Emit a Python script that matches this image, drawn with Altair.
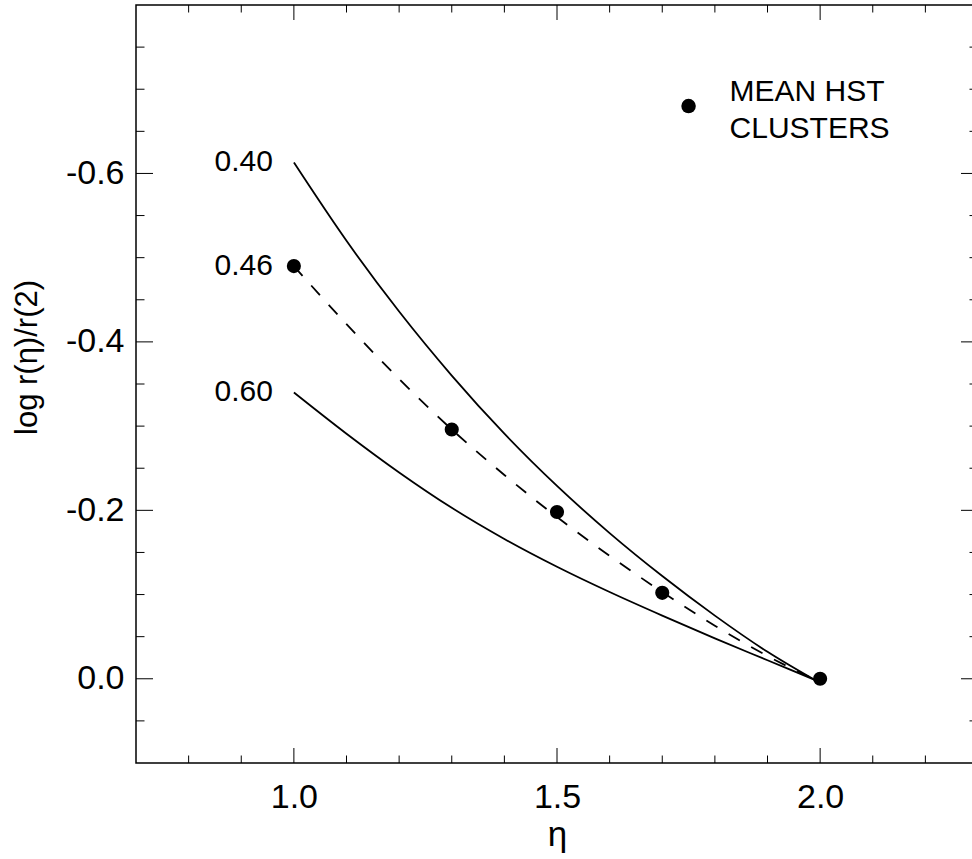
import altair as alt
import pandas as pd

# ---- data ----
eta = [1.0, 1.1, 1.2, 1.3, 1.4, 1.5, 1.6, 1.7, 1.8, 1.9, 2.0]
curve_040 = [-0.613, -0.520, -0.436, -0.360, -0.291, -0.229, -0.173, -0.122, -0.075, -0.032, 0.005]
curve_046 = [-0.490, -0.421, -0.356, -0.296, -0.242, -0.192, -0.146, -0.103, -0.063, -0.027, 0.004]
curve_060 = [-0.340, -0.291, -0.245, -0.203, -0.166, -0.133, -0.103, -0.075, -0.048, -0.022, 0.004]
curve_names = ["0.40", "0.46", "0.60"]

hst_eta = [1.0, 1.3, 1.5, 1.7, 2.0]
hst_val = [-0.490, -0.296, -0.198, -0.102, 0.0]

legend_eta = [1.75]
legend_val = [-0.68]
legend_lines = ["MEAN HST", "CLUSTERS"]

x_major = [1.0, 1.5, 2.0]
x_minor = [0.8, 0.9, 1.1, 1.2, 1.3, 1.4, 1.6, 1.7, 1.8, 1.9, 2.1, 2.2]
y_major = [-0.6, -0.4, -0.2, 0.0]
y_minor = [-0.75, -0.7, -0.65, -0.55, -0.5, -0.45, -0.35, -0.3, -0.25,
           -0.15, -0.1, -0.05, 0.05]

# ---- layout ----
W, H = 842, 758
FONT = "Liberation Sans"

xs = alt.Scale(domain=[0.7, 2.3], nice=False, zero=False)
ys = alt.Scale(domain=[-0.8, 0.1], reverse=True, nice=False, zero=False)

solid_df = pd.DataFrame({
    "eta": eta * 2,
    "val": curve_040 + curve_060,
    "name": [curve_names[0]] * len(eta) + [curve_names[2]] * len(eta),
})
dash_df = pd.DataFrame({"eta": eta, "val": curve_046})
pts_df = pd.DataFrame({"eta": hst_eta, "val": hst_val})
lab_df = pd.DataFrame({
    "eta": [eta[0]] * 3,
    "val": [curve_040[0], curve_046[0], curve_060[0]],
    "name": curve_names,
})
leg_df = pd.DataFrame({"eta": legend_eta, "val": legend_val,
                       "text": ["\n".join(legend_lines)]})

x_axis = alt.Axis(
    values=x_major, labelExpr="format(datum.value, '.1f')",
    ticks=False, tickSize=0, domain=False, grid=False,
    labelFont=FONT, labelFontSize=34, labelColor="black", labelPadding=17,
    title="η", titleFont=FONT, titleFontSize=35, titleFontWeight="normal",
    titleColor="black", titleY=82, titleBaseline="alphabetic",
)
y_axis = alt.Axis(
    values=y_major,
    labelExpr="(datum.value < 0 ? '-' : '') + format(abs(datum.value), '.1f')",
    ticks=False, tickSize=0, domain=False, grid=False,
    labelFont=FONT, labelFontSize=34, labelColor="black", labelPadding=12,
    title="log r(η)/r(2)", titleFont=FONT, titleFontSize=31,
    titleFontWeight="normal", titleColor="black", titleAngle=270,
    titleX=-100, titleY=352, titleAlign="center", titleBaseline="alphabetic",
)


def X(field):
    return alt.X(field, scale=xs, axis=x_axis)


def Y(field):
    return alt.Y(field, scale=ys, axis=y_axis)


solid = alt.Chart(solid_df).mark_line(
    color="black", strokeWidth=1.8, interpolate="monotone"
).encode(x=X("eta:Q"), y=Y("val:Q"), detail="name:N")

dashed = alt.Chart(dash_df).mark_line(
    color="black", strokeWidth=1.8, strokeDash=[13, 13], interpolate="monotone"
).encode(x=X("eta:Q"), y=Y("val:Q"))

points = alt.Chart(pts_df).mark_circle(color="black", opacity=1, size=200).encode(
    x=X("eta:Q"), y=Y("val:Q"))

labels = alt.Chart(lab_df).mark_text(
    font=FONT, fontSize=30, color="black", align="right", baseline="middle", dx=-21
).encode(x=X("eta:Q"), y=Y("val:Q"), text="name:N")

leg_pt = alt.Chart(leg_df).mark_circle(color="black", opacity=1, size=210).encode(
    x=X("eta:Q"), y=Y("val:Q"))
leg_txt = alt.Chart(leg_df).mark_text(
    font=FONT, fontSize=30, color="black", align="left", baseline="alphabetic",
    dx=41, dy=-5, lineBreak="\n", lineHeight=37
).encode(x=X("eta:Q"), y=Y("val:Q"), text="text:N")


def yticks(vals, length):
    df = pd.DataFrame({"val": vals})
    left = alt.Chart(df).mark_rule(color="black", strokeWidth=1).encode(
        y=Y("val:Q"), x=alt.value(0), x2=alt.value(length))
    right = alt.Chart(df).mark_rule(color="black", strokeWidth=1).encode(
        y=Y("val:Q"), x=alt.value(W), x2=alt.value(W - length))
    return [left, right]


def xticks(vals, length):
    df = pd.DataFrame({"eta": vals})
    bottom = alt.Chart(df).mark_rule(color="black", strokeWidth=1).encode(
        x=X("eta:Q"), y=alt.value(H), y2=alt.value(H - length))
    top = alt.Chart(df).mark_rule(color="black", strokeWidth=1).encode(
        x=X("eta:Q"), y=alt.value(0), y2=alt.value(length))
    return [bottom, top]


tick_layers = (yticks(y_major, 17) + yticks(y_minor, 8.5)
               + xticks(x_major, 15) + xticks(x_minor, 7.5))

chart = alt.layer(
    solid, dashed, *tick_layers, points, labels, leg_pt, leg_txt
).properties(
    width=W, height=H,
    autosize=alt.AutoSizeParams(type="none"),
    padding={"left": 136, "top": 5, "right": -6, "bottom": 94},
    background="white",
).configure_view(
    stroke="black", strokeWidth=1.5
)

chart.save("out.html", embed_options={"renderer": "svg", "actions": False})
